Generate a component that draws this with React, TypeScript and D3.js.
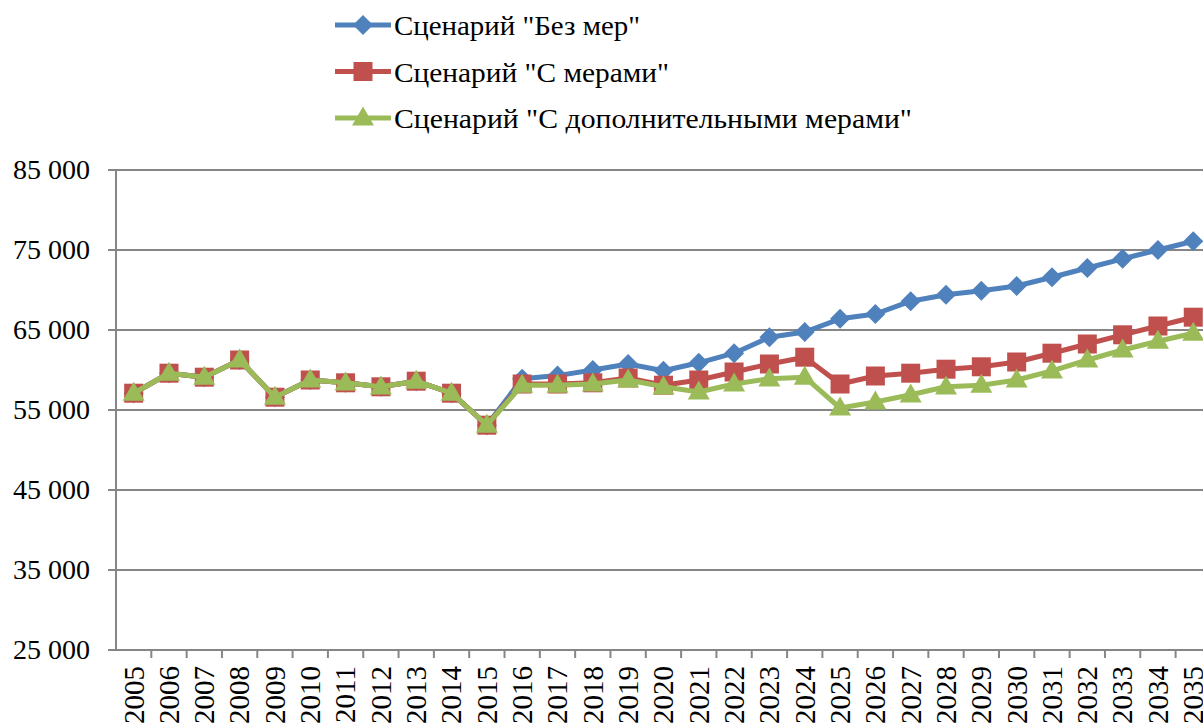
import React, { useMemo } from 'react';
import * as d3 from 'd3';

// years on the x axis
const years = d3.range(2005, 2036).map(String);

// series values
const noMeasures = [
  57100, 59600, 59100, 61250, 56600, 58750, 58400, 57900, 58600, 57100, 53100,
  58900, 59300, 60000, 60750, 59900, 60900, 62100, 64100, 64750, 66400,
  67000, 68600, 69400, 69900, 70500, 71600, 72750, 73900, 75000, 76100,
];
const withMeasures = [
  57100, 59600, 59100, 61250, 56600, 58750, 58400, 57900, 58600, 57100, 53100,
  58250, 58250, 58400, 59000, 58100, 58750, 59750, 60750, 61600, 58250,
  59250, 59600, 60100, 60400, 61000, 62100, 63250, 64400, 65500, 66600,
];
const extraMeasures = [
  57100, 59600, 59100, 61250, 56600, 58750, 58400, 57900, 58600, 57100, 53100,
  58100, 58100, 58250, 58750, 57900, 57250, 58250, 58900, 59100, 55250,
  56000, 56900, 57900, 58100, 58750, 59900, 61250, 62500, 63600, 64600,
];

const yTicks = [25000, 35000, 45000, 55000, 65000, 75000, 85000];

const seriesNames = [
  'Сценарий "Без мер"',
  'Сценарий "С мерами"',
  'Сценарий "С дополнительными мерами"',
];
// widths the legend texts take in the reference (its serif font is wider)
const legendWidths = [246, 275, 518];
const colors = ['#4F81BD', '#C0504D', '#9BBB59'];
const shapes = ['diamond', 'square', 'triangle'];

const W = 1203;
const H = 726;
const left = 116;
const bandW = 35.32;
const fontStyle = {
  fontFamily: "'Times New Roman', Times, 'Liberation Serif', Tinos, 'Nimbus Roman', FreeSerif, 'Noto Serif', 'DejaVu Serif', serif",
};

function Marker({ shape, x, y, color }) {
  if (shape === 'diamond') {
    const r = 10;
    return <path d={`M${x},${y - r}L${x + r},${y}L${x},${y + r}L${x - r},${y}Z`} fill={color} />;
  }
  if (shape === 'square') {
    const s = 19;
    return <rect x={x - s / 2} y={y - s / 2} width={s} height={s} fill={color} />;
  }
  const h = 19, w = 22;
  return <path d={`M${x},${y - h * 0.6}L${x + w / 2},${y + h * 0.4}L${x - w / 2},${y + h * 0.4}Z`} fill={color} />;
}

export default function App() {
  const xScale = useMemo(() => d3.scaleBand().domain(years).range([left, left + bandW * years.length]), []);
  const yScale = useMemo(() => d3.scaleLinear().domain([25000, 85000]).range([650, 170]), []);
  const fmt = (v: number) => d3.format(',')(v).replace(/,/g, ' ');

  const line = d3.line<number>()
    .x((d, i) => xScale(years[i])! + xScale.bandwidth() / 2)
    .y(d => yScale(d));

  const data = [noMeasures, withMeasures, extraMeasures];
  const x0 = xScale.range()[0];
  const x1 = xScale.range()[1];

  return (
    <svg width={W} height={H} style={{ position: 'absolute', left: 0, top: 0, background: '#fff' }}>
      {/* grid + y axis */}
      {yTicks.map(t => (
        <g key={t}>
          <line x1={x0 - 8} x2={x1} y1={yScale(t)} y2={yScale(t)} stroke="#868686" strokeWidth={2} />
          <text x={90} y={yScale(t)} dy="0.33em" textAnchor="end" fontSize={28} fill="#000" style={fontStyle}>{fmt(t)}</text>
        </g>
      ))}
      <line x1={x0} x2={x0} y1={yScale(85000)} y2={yScale(25000)} stroke="#868686" strokeWidth={2} />

      {/* x ticks + labels */}
      {years.map(y => (
        <g key={y}>
          <line x1={xScale(y)! + bandW} x2={xScale(y)! + bandW} y1={650} y2={658} stroke="#868686" strokeWidth={2} />
          <text
            transform={`translate(${xScale(y)! + bandW / 2},666) rotate(-90)`}
            dy="0.34em" textAnchor="end" fontSize={29} fill="#000" style={fontStyle}
          >{y}</text>
        </g>
      ))}

      {/* series */}
      {data.map((vals, k) => (
        <g key={k}>
          <path d={line(vals)!} fill="none" stroke={colors[k]} strokeWidth={5} strokeLinejoin="round" />
          {vals.map((v, i) => (
            <Marker key={i} shape={shapes[k]} x={xScale(years[i])! + bandW / 2} y={yScale(v)} color={colors[k]} />
          ))}
        </g>
      ))}

      {/* legend */}
      {seriesNames.map((name, k) => {
        const cy = 25 + k * 46.5;
        return (
          <g key={name}>
            <line x1={335} x2={391} y1={cy} y2={cy} stroke={colors[k]} strokeWidth={5} />
            <Marker shape={shapes[k]} x={363} y={cy} color={colors[k]} />
            <text
              x={394} y={cy + 10} fontSize={28} fill="#000" style={fontStyle}
              textLength={legendWidths[k]} lengthAdjust="spacingAndGlyphs"
            >{name}</text>
          </g>
        );
      })}
    </svg>
  );
}
